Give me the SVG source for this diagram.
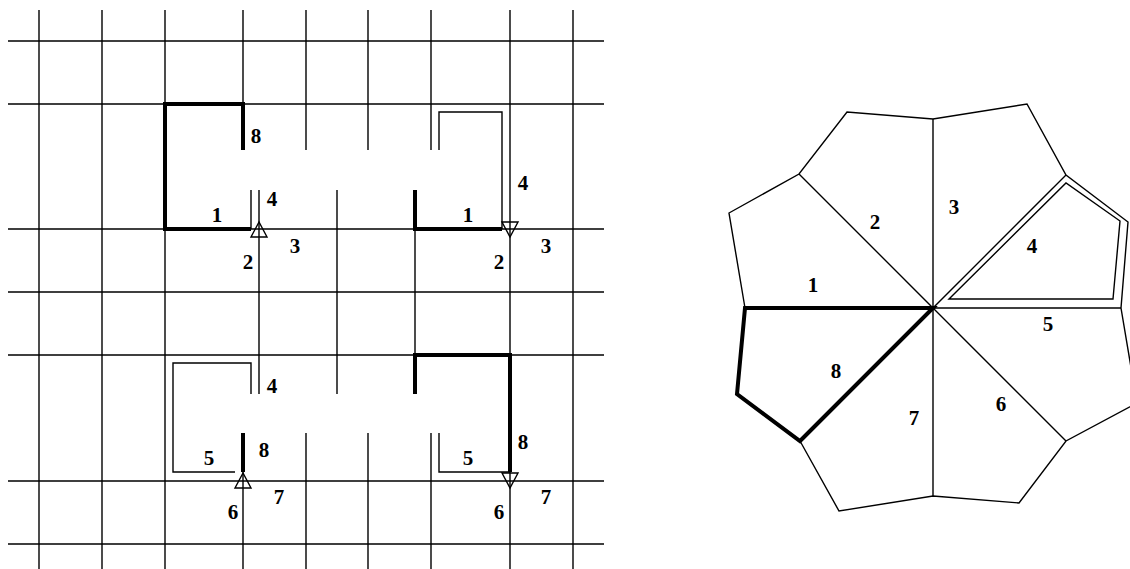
<svg xmlns="http://www.w3.org/2000/svg" width="1130" height="569" viewBox="0 0 1130 569">
<style>
.t{fill:none;stroke:#000;stroke-width:1.4}
.b{fill:none;stroke:#000;stroke-width:4;stroke-linejoin:miter}
.a{fill:none;stroke:#000;stroke-width:1.4}
text{font-family:"Liberation Serif","Times New Roman",serif;font-weight:bold;font-size:21px;text-anchor:middle;fill:#000}
</style>
<rect width="1130" height="569" fill="#fff"/>
<g id="grid-connectors">
<path class="t" d="M8 41H604M8 104H604M8 229H604M8 292H604M8 355H604M8 481H604M8 544H604"/>
<path class="t" d="M39 10V570M102 10V570M165 10V570M510 10V570M573 10V570"/>
<path class="t" d="M243 10V150M306 10V150M368 10V150M431 10V150"/>
<path class="t" d="M259 190V394M337 190V394M415 190V394M251 190V229"/>
<path class="t" d="M243 433V570M306 433V570M368 433V570M431 433V570"/>
<path class="t" d="M439 150V112H502V229"/>
<path class="t" d="M251 394V363H173V472H235"/>
<path class="t" d="M439 433V472H510"/>
<path class="b" d="M243 150V104H165V229H251"/>
<path class="b" d="M415 190V229H502"/>
<path class="b" d="M243 433V472"/>
<path class="b" d="M415 394V355H510V472"/>
<polygon class="a" points="259,222 251,237 267,237"/>
<polygon class="a" points="502,222 518,222 510,237"/>
<polygon class="a" points="243,473 235,488 251,488"/>
<polygon class="a" points="502,473 518,473 510,488"/>
</g>
<g id="polygon-connectors">
<path class="t" d="M745 308L729 213L799 174L847 112L933 119L1027 104L1066 175L1128 222L1121 308L1137 403L1066 441L1019 503L933 496L839 511L800 441"/>
<path class="t" d="M933 308L799 174M933 308V119M933 308L1066 175M933 308H1121M933 308L1066 441M933 308V496"/>
<path class="t" d="M949 299L1066 183L1120 221L1113 299Z"/>
<path class="b" d="M933 308H745L737 394L800 441Z"/>
</g>
<g id="labels-left">
<text x="217" y="222">1</text><text x="256" y="143">8</text><text x="272" y="206">4</text><text x="295" y="253">3</text><text x="248" y="269">2</text>
<text x="468" y="222">1</text><text x="523" y="190">4</text><text x="546" y="253">3</text><text x="499" y="269">2</text>
<text x="272" y="393">4</text><text x="209" y="465">5</text><text x="264" y="457">8</text><text x="279" y="504">7</text><text x="233" y="519">6</text>
<text x="468" y="465">5</text><text x="523" y="449">8</text><text x="546" y="504">7</text><text x="499" y="519">6</text>
</g>
<g id="labels-right">
<text x="813" y="292">1</text><text x="875" y="229">2</text><text x="954" y="214">3</text><text x="1032" y="253">4</text><text x="1048" y="331">5</text><text x="1001" y="411">6</text><text x="914" y="425">7</text><text x="836" y="378">8</text>
</g>
</svg>
